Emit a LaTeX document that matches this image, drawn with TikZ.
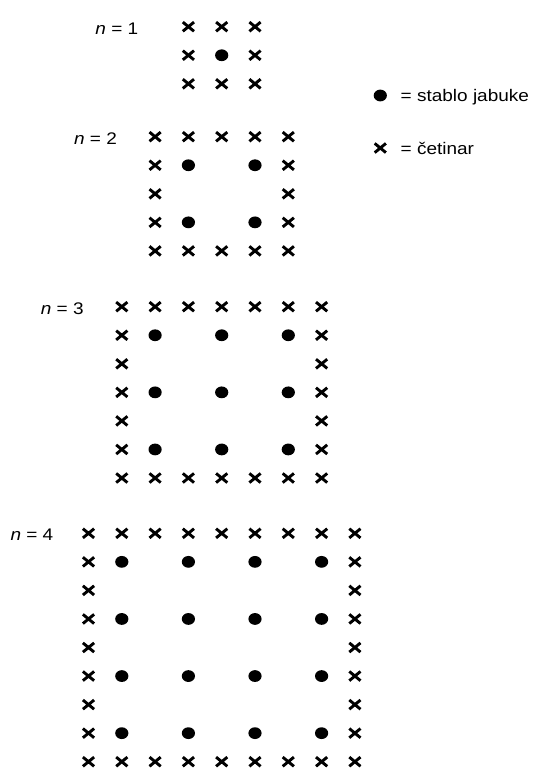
\documentclass[tikz,border=0pt]{standalone}
\usepackage{fontspec}
\setmainfont{Liberation Sans}
\usetikzlibrary{positioning, calc}
\tikzset{
  cetinar/.pic={\draw[line width=2.9pt] (-5.6,-4.6) -- (5.6,4.6) (-5.6,4.6) -- (5.6,-4.6);},
  jabuka/.pic={\fill (0,0) ellipse [x radius=6.6, y radius=5.9];}}

\begin{document}
\begin{tikzpicture}[x=1pt,y=-1pt,
  lbl/.style={font=\fontsize{16.8}{19}\selectfont,xscale=1.13,inner sep=0pt}]
  \useasboundingbox (0,0) rectangle (533,769);
  %% grids n = 1..4
  \foreach \n/\top/\gap in {1/26.7/50, 2/136.7/38, 3/306.7/38, 4/533.3/35}{
    \pgfmathtruncatemacro{\m}{2*\n}
    \coordinate (g\n) at ({221.7-\n*33.3},\top);
    \node[lbl,anchor=base east](lab\n) at ($(g\n)+(-\gap,7.6)$){\textit{n} = \n};
    \foreach \i in {0,...,\m}{
      \foreach \j in {0,...,\m}{
        \pgfmathtruncatemacro{\edge}{(\i==0)||(\i==\m)||(\j==0)||(\j==\m)}
        \pgfmathtruncatemacro{\odd}{(mod(\i,2)==1)&&(mod(\j,2)==1)}
        \ifnum\edge=1
          \pic at ($(g\n)+(\i*33.3,\j*28.55)$){cetinar};
        \else\ifnum\odd=1
          \pic at ($(g\n)+(\i*33.3,\j*28.55)$){jabuka};
        \fi\fi
      }
    }
  }
  %% legend
  \coordinate (lj) at (380.3,95.5);
  \coordinate (lc) at (380.3,148);
  \pic at (lj){jabuka};
  \pic at (lc){cetinar};
  \node[lbl,anchor=base west](tj) at ($(lj)+(20.2,5.5)$){= stablo jabuke};
  \node[lbl,anchor=base west](tc) at ($(lc)+(20.2,6)$){= četinar};
\end{tikzpicture}
\end{document}
